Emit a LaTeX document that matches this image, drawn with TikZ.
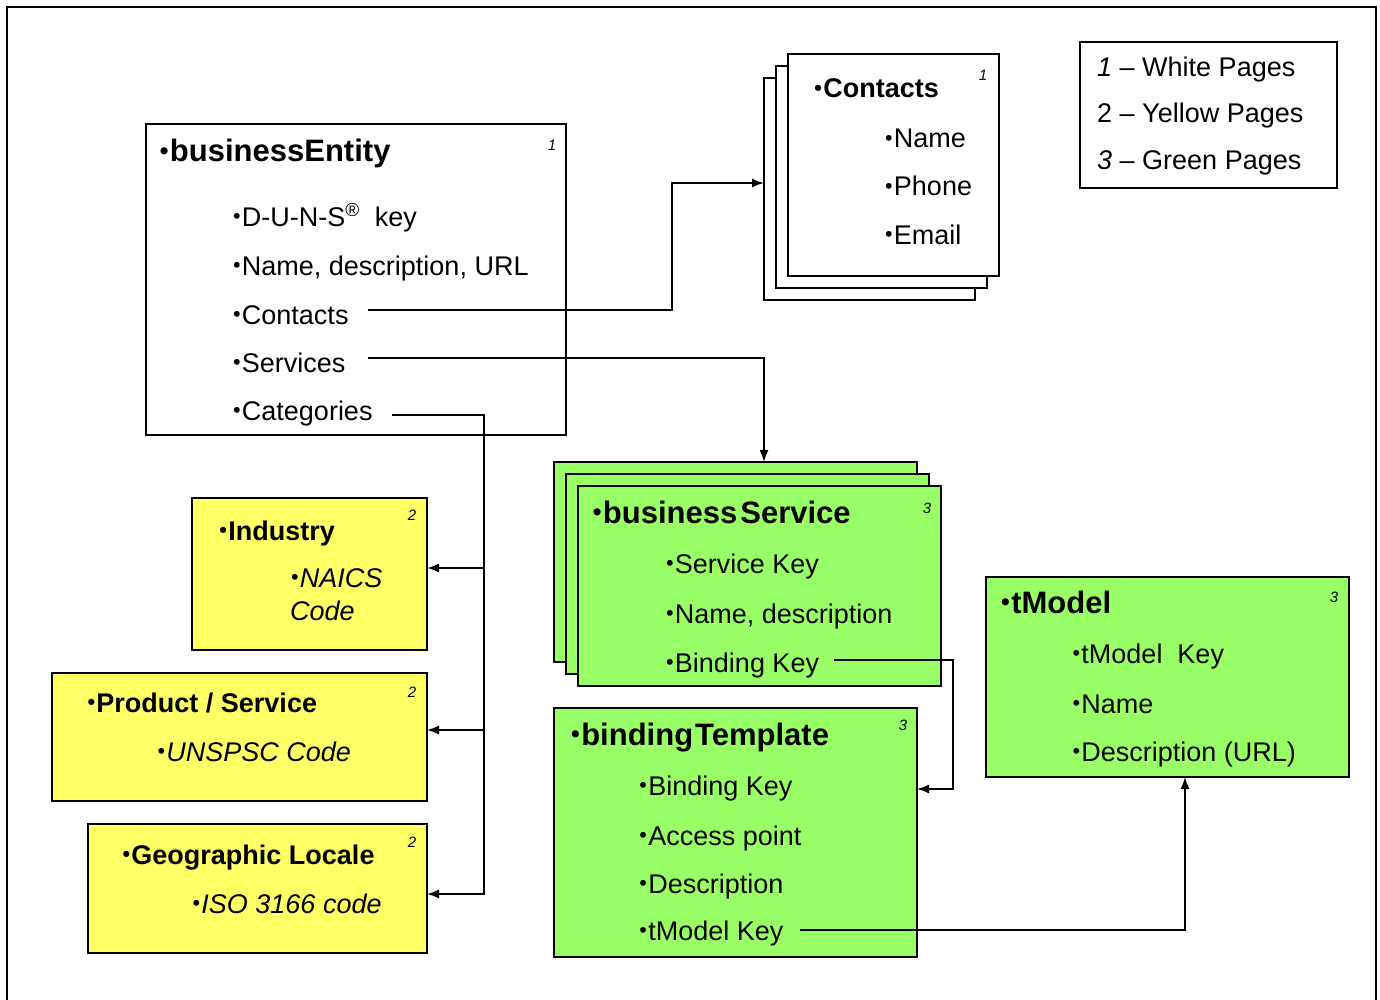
\documentclass[tikz,border=0pt]{standalone}
\usepackage{fontspec}
\usepackage{graphicx}
\setmainfont{Liberation Sans}
\usetikzlibrary{arrows.meta}
\definecolor{pagegreen}{HTML}{99FF66}
\definecolor{pageyellow}{HTML}{FFFF66}
% small list bullet, centred at mid cap height
\newcommand\bul{\makebox[0.38em][c]{\raisebox{0.08em}{\scalebox{0.8}{\textbullet}}}}
\tikzset{
  box/.style={draw, line width=1.8pt, rectangle, anchor=north west, inner sep=0pt, outer sep=0pt},
  wbox/.style={box, fill=white},
  gbox/.style={box, fill=pagegreen},
  ybox/.style={box, fill=pageyellow},
  item/.style={anchor=base west, inner sep=0pt, font=\fontsize{27}{30}\selectfont},
  head/.style={anchor=base west, inner sep=0pt, font=\bfseries\fontsize{31}{34}\selectfont},
  subhead/.style={anchor=base west, inner sep=0pt, font=\bfseries\fontsize{27}{30}\selectfont},
  tag/.style={inner sep=0pt, font=\itshape\fontsize{15}{16}\selectfont},
  conn/.style={line width=1.6pt},
  link/.style={conn, -{Latex[length=12pt,width=9pt]}},
}
\begin{document}
\begin{tikzpicture}[x=1pt,y=-1pt]
\useasboundingbox (0,0) rectangle (1380,1000);
% frame
\draw[line width=2.4pt] (7,1000) -- (7,7) -- (1376,7) -- (1376,1000);

% businessEntity
\node[wbox, minimum width=420pt, minimum height=311pt] (be) at (146,124) {};
\node[head] (beTitle) at (158,162) {\bul businessEntity};
\node[tag] (beTag) at (552,145) {1};
\node[item] (beDuns) at (231.5,226) {\bul D-U-N-S\textsuperscript{\textregistered}~~key};
\node[item] (beName) at (231.5,275) {\bul Name, description, URL};
\node[item] (beCont) at (231.5,324) {\bul Contacts};
\node[item] (beServ) at (231.5,372) {\bul Services};
\node[item] (beCat) at (231.5,420) {\bul Categories};

% contacts stack
\node[wbox, minimum width=211pt, minimum height=222pt] (cBack) at (764,78) {};
\node[wbox, minimum width=211pt, minimum height=222pt] (cMid) at (776,66) {};
\node[wbox, minimum width=211pt, minimum height=222pt] (cFront) at (788,54) {};
\node[subhead] (cTitle) at (812.8,98) {\bul Contacts};
\node[tag] (cTag) at (983,75) {1};
\node[item] (cName) at (883.5,148) {\bul Name};
\node[item] (cPhone) at (883.5,196) {\bul Phone};
\node[item] (cMail) at (883.5,244) {\bul Email};

% legend
\node[wbox, minimum width=257pt, minimum height=146pt] (lg) at (1080,42) {};
\node[item] (lgA) at (1097,77) {\textit{1} -- White Pages};
\node[item] (lgB) at (1097,123) {2 -- Yellow Pages};
\node[item] (lgC) at (1097,170) {\textit{3} -- Green Pages};

% category boxes
\node[ybox, minimum width=235pt, minimum height=152pt] (ind) at (192,498) {};
\node[subhead] (indTitle) at (217.8,540) {\bul Industry};
\node[tag] (indTag) at (412,515) {2};
\node[item] (indNaics) at (289.5,587) {\bul\textit{NAICS}};
\node[item] (indCode) at (290,620) {\textit{Code}};

\node[ybox, minimum width=375pt, minimum height=128pt] (prod) at (52,673) {};
\node[subhead] (prodTitle) at (86,712) {\bul Product / Service};
\node[tag] (prodTag) at (412,692) {2};
\node[item] (prodCode) at (156,761) {\bul\textit{UNSPSC Code}};

\node[ybox, minimum width=339pt, minimum height=129pt] (geo) at (88,824) {};
\node[subhead] (geoTitle) at (121,864) {\bul Geographic Locale};
\node[tag] (geoTag) at (412,842) {2};
\node[item] (geoCode) at (191,913) {\bul\textit{ISO 3166 code}};

% businessService stack
\node[gbox, minimum width=363pt, minimum height=200pt] (sBack) at (554,462) {};
\node[gbox, minimum width=363pt, minimum height=200pt] (sMid) at (566,474) {};
\node[gbox, minimum width=363pt, minimum height=200pt] (sFront) at (578,486) {};
\node[head] (sTitle) at (591,523) {\bul business\kern3pt Service};
\node[tag] (sTag) at (927,508) {3};
\node[item] (sKey) at (664.5,573) {\bul Service Key};
\node[item] (sName) at (664.5,623) {\bul Name, description};
\node[item] (sBind) at (664.5,672) {\bul Binding Key};

% bindingTemplate
\node[gbox, minimum width=363pt, minimum height=249pt] (bt) at (554,708) {};
\node[head] (btTitle) at (569.3,745) {\bul binding\kern2pt Template};
\node[tag] (btTag) at (903,725) {3};
\node[item] (btBind) at (637.8,795) {\bul Binding Key};
\node[item] (btAccess) at (637.8,845) {\bul Access point};
\node[item] (btDesc) at (637.8,893) {\bul Description};
\node[item] (btTm) at (637.8,940) {\bul tModel Key};

% tModel
\node[gbox, minimum width=363pt, minimum height=200pt] (tm) at (986,577) {};
\node[head] (tmTitle) at (999.3,613) {\bul tModel};
\node[tag] (tmTag) at (1334,597) {3};
\node[item] (tmKey) at (1071,663) {\bul tModel~~Key};
\node[item] (tmName) at (1071,713) {\bul Name};
\node[item] (tmDesc) at (1071,761) {\bul Description (URL)};

% connector anchor points
\coordinate (contStart) at (368,310);
\coordinate (contTurn) at (672,183);
\coordinate (servStart) at (368,358);
\coordinate (servDrop) at (764,358);
\coordinate (catStart) at (392,415);
\coordinate (catTrunk) at (484,415);
\coordinate (tapInd) at (484,568);
\coordinate (tapProd) at (484,730);
\coordinate (tapGeo) at (484,894);
\coordinate (bindStart) at (834,660);
\coordinate (bindTurn) at (953,660);
\coordinate (bindIn) at (953,789);
\coordinate (tmStart) at (800,930);
\coordinate (tmTurn) at (1185,930);

% connectors
\draw[link] (contStart) -| (contTurn) -- (contTurn -| cBack.west);
\draw[link] (servStart) -- (servDrop) -- (servDrop |- sBack.north);
\draw[link] (catStart) -- (catTrunk) -- (tapGeo) -- (tapGeo -| geo.east);
\draw[link] (tapInd) -- (tapInd -| ind.east);
\draw[link] (tapProd) -- (tapProd -| prod.east);
\draw[link] (bindStart) -- (bindTurn) -- (bindIn) -- (bindIn -| bt.east);
\draw[link] (tmStart) -- (tmTurn) -- (tmTurn |- tm.south);
\end{tikzpicture}
\end{document}
